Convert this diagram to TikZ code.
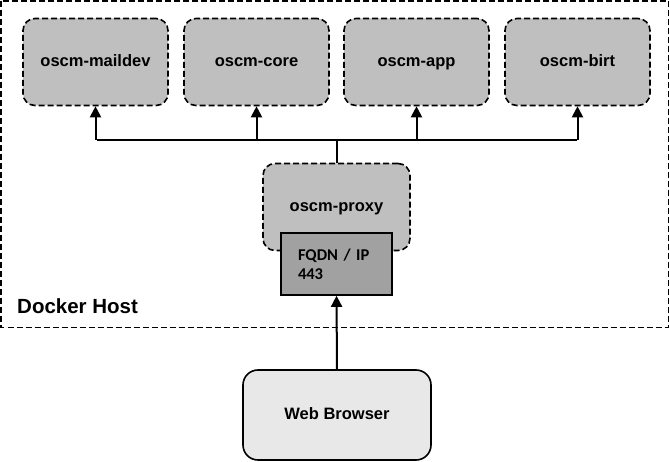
\documentclass[tikz,border=0pt]{standalone}
\usepackage{fontspec}
\setmainfont{Liberation Sans}
\newfontfamily\calfont{Carlito}
\usetikzlibrary{arrows.meta}
\begin{document}
\begin{tikzpicture}[
			x=1pt,y=-1pt,
			font=\fontsize{16.5}{19}\selectfont\bfseries,
			container/.style={draw,line width=1.6pt,dash pattern=on 6pt off 3pt,rounded corners=12pt,fill=black!25,minimum width=145pt,minimum height=87pt,text height=12pt,text depth=3.5pt},
			portbox/.style={draw,line width=1.6pt,fill=black!37,minimum width=111pt,minimum height=62pt,text width=77pt,inner xsep=17pt,align=left,font=\calfont\fontsize{16.5}{19}\selectfont\bfseries},
			client/.style={draw,line width=1.6pt,rounded corners=15pt,fill=black!9,minimum width=188pt,minimum height=90pt,text height=12pt,text depth=3.5pt},
			link/.style={line width=2pt,-{Triangle[length=11pt,width=11pt]}}
		]
		\useasboundingbox (0,0) rectangle (670,462);
		\draw[line width=1.6pt,dash pattern=on 6pt off 3pt] (1,1) rectangle (668.5,327.5);
		\node[anchor=base west,inner sep=0pt,font=\fontsize{20.5}{24}\selectfont\bfseries] (host) at (17,314) {Docker Host};
		\node[container] (maildev) at (95.5,62) {oscm-maildev};
		\node[container] (core) at (256.5,62) {oscm-core};
		\node[container] (app) at (416.5,62) {oscm-app};
		\node[container] (birt) at (577.5,62) {oscm-birt};
		\node[container,minimum width=147pt] (proxy) at (336.5,207) {oscm-proxy};
		\node[portbox] (port) at (336.5,264) {FQDN / IP\\443};
		\node[client] (browser) at (337,415) {Web Browser};
		\coordinate (busL) at (97,140);
		\coordinate (busR) at (577,140);
		\draw[line width=2pt] (busL) -- (busR);
		\draw[line width=2pt] (proxy.north) -- (proxy.north |- busL);
		\foreach \n in {maildev,core,app,birt}
			\draw[link] (\n.south |- busL) -- (\n.south);
		\draw[link] (browser.north) -- (port.south);
	\end{tikzpicture}
\end{document}
